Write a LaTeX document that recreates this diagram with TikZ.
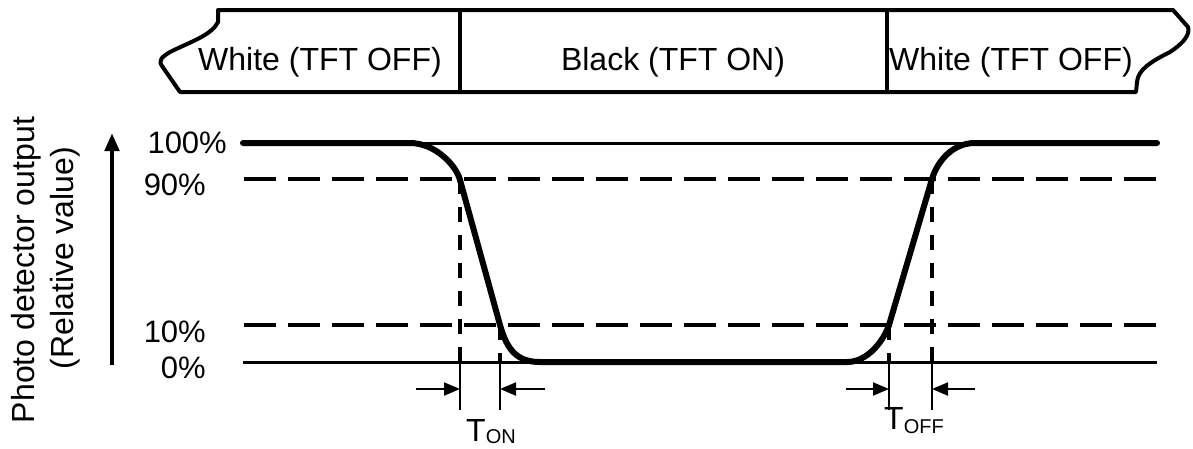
\documentclass[tikz,border=0pt]{standalone}
\usepackage{fontspec}
\setmainfont{Liberation Sans}
\usetikzlibrary{arrows.meta}
\begin{document}
\begin{tikzpicture}[x=1pt,y=-1pt,
  banner/.style={line width=4pt,line join=round},
  bigtxt/.style={font=\fontsize{32}{38}\selectfont,inner sep=0pt},
  lbl/.style={font=\fontsize{31}{37}\selectfont,inner sep=0pt},
  hdash/.style={line width=4pt,dash pattern=on 32pt off 12pt},
  vdash/.style={line width=4pt,dash pattern=on 15pt off 13pt},
  level/.style={line width=3pt},
  signal/.style={line width=6pt,line join=round,line cap=round},
  ext/.style={line width=2pt},
  dim/.style={line width=2pt,-{Triangle[length=16pt,width=13pt]}},
  axis/.style={line width=4.5pt,-{Triangle[length=18pt,width=14pt]}}]
\useasboundingbox (0,0) rectangle (1193,448);
% banner
\draw[banner] (218,10) -- (1173,10) -- (1188,27)
  .. controls (1190,34) and (1185,42) .. (1170,52)
  .. controls (1150,62) and (1138,70) .. (1137,82) -- (1136,92)
  -- (180,92) -- (162,66)
  .. controls (158,60) and (162,57) .. (170,52)
  .. controls (190,42) and (212,35) .. (218,22) -- cycle;
\coordinate (d1t) at (460,10); \coordinate (d1b) at (460,92);
\coordinate (d2t) at (887,10); \coordinate (d2b) at (887,92);
\draw[banner] (d1t) -- (d1b);
\draw[banner] (d2t) -- (d2b);
\node[bigtxt,anchor=base west] (w1) at (198,70) {White (TFT OFF)};
\node[bigtxt,anchor=base] (b1) at (673,70) {Black (TFT ON)};
\node[bigtxt,anchor=base west] (w2) at (889,70) {White (TFT OFF)};
% axis title and arrow
\node[bigtxt,rotate=90,anchor=base] (yt1) at (34,270) {Photo detector output};
\node[bigtxt,rotate=90,anchor=base] (yt2) at (73,258) {(Relative value)};
\coordinate (ab) at (112,365); \coordinate (at) at (112,133);
\draw[axis] (ab) -- (at);
% level labels
\node[lbl,anchor=base east] (l100) at (227,153) {100\%};
\node[lbl,anchor=base east] (l90) at (206,195) {90\%};
\node[lbl,anchor=base east] (l10) at (206,342) {10\%};
\node[lbl,anchor=base east] (l0) at (206,378) {0\%};
% level lines
\coordinate (a100) at (243,143); \coordinate (b100) at (1157,143);
\coordinate (a90) at (244,179); \coordinate (b90) at (1157,179);
\coordinate (a10) at (244,325); \coordinate (b10) at (1157,325);
\coordinate (a0) at (243,362); \coordinate (b0) at (1157,362);
\draw[level] (a100) -- (b100);
\draw[level] (a0) -- (b0);
\draw[hdash] (a90) -- (b90);
\draw[hdash] (a10) -- (b10);
% vertical markers
\coordinate (v1t) at (460,179); \coordinate (v1m) at (460,362); \coordinate (v1b) at (460,410);
\coordinate (v2t) at (500,325); \coordinate (v2m) at (500,362); \coordinate (v2b) at (500,410);
\coordinate (v3t) at (889,325); \coordinate (v3m) at (889,362); \coordinate (v3b) at (889,410);
\coordinate (v4t) at (932,179); \coordinate (v4m) at (932,362); \coordinate (v4b) at (932,410);
\draw[vdash] (v1t) -- (v1m); \draw[ext] (v1m) -- (v1b);
\draw[vdash] (v2t) -- (v2m); \draw[ext] (v2m) -- (v2b);
\draw[vdash] (v3t) -- (v3m); \draw[ext] (v3m) -- (v3b);
\draw[vdash] (v4t) -- (v4m); \draw[ext] (v4m) -- (v4b);
% signal
\draw[signal] (243,143) -- (410,143)
  .. controls (435,143) and (456,165) .. (460,180)
  -- (500,325)
  .. controls (507,350) and (517,362) .. (540,362)
  -- (847,362)
  .. controls (868,362) and (884,340) .. (889,325)
  -- (932,179)
  .. controls (936,165) and (950,143) .. (975,143)
  -- (1157,143);
% dimension arrows
\coordinate (t1a) at (416,389); \coordinate (t1b) at (460,389);
\coordinate (t2a) at (545,389); \coordinate (t2b) at (500,389);
\coordinate (t3a) at (846,389); \coordinate (t3b) at (889,389);
\coordinate (t4a) at (975,389); \coordinate (t4b) at (932,389);
\draw[dim] (t1a) -- (t1b);
\draw[dim] (t2a) -- (t2b);
\draw[dim] (t3a) -- (t3b);
\draw[dim] (t4a) -- (t4b);
\node[bigtxt,anchor=base west] (ton) at (466,441) {T\raisebox{-2pt}{\fontsize{20}{20}\selectfont ON}};
\node[bigtxt,anchor=base west] (toff) at (884,429) {T\raisebox{-4pt}{\fontsize{20}{20}\selectfont OFF}};
\end{tikzpicture}
\end{document}
